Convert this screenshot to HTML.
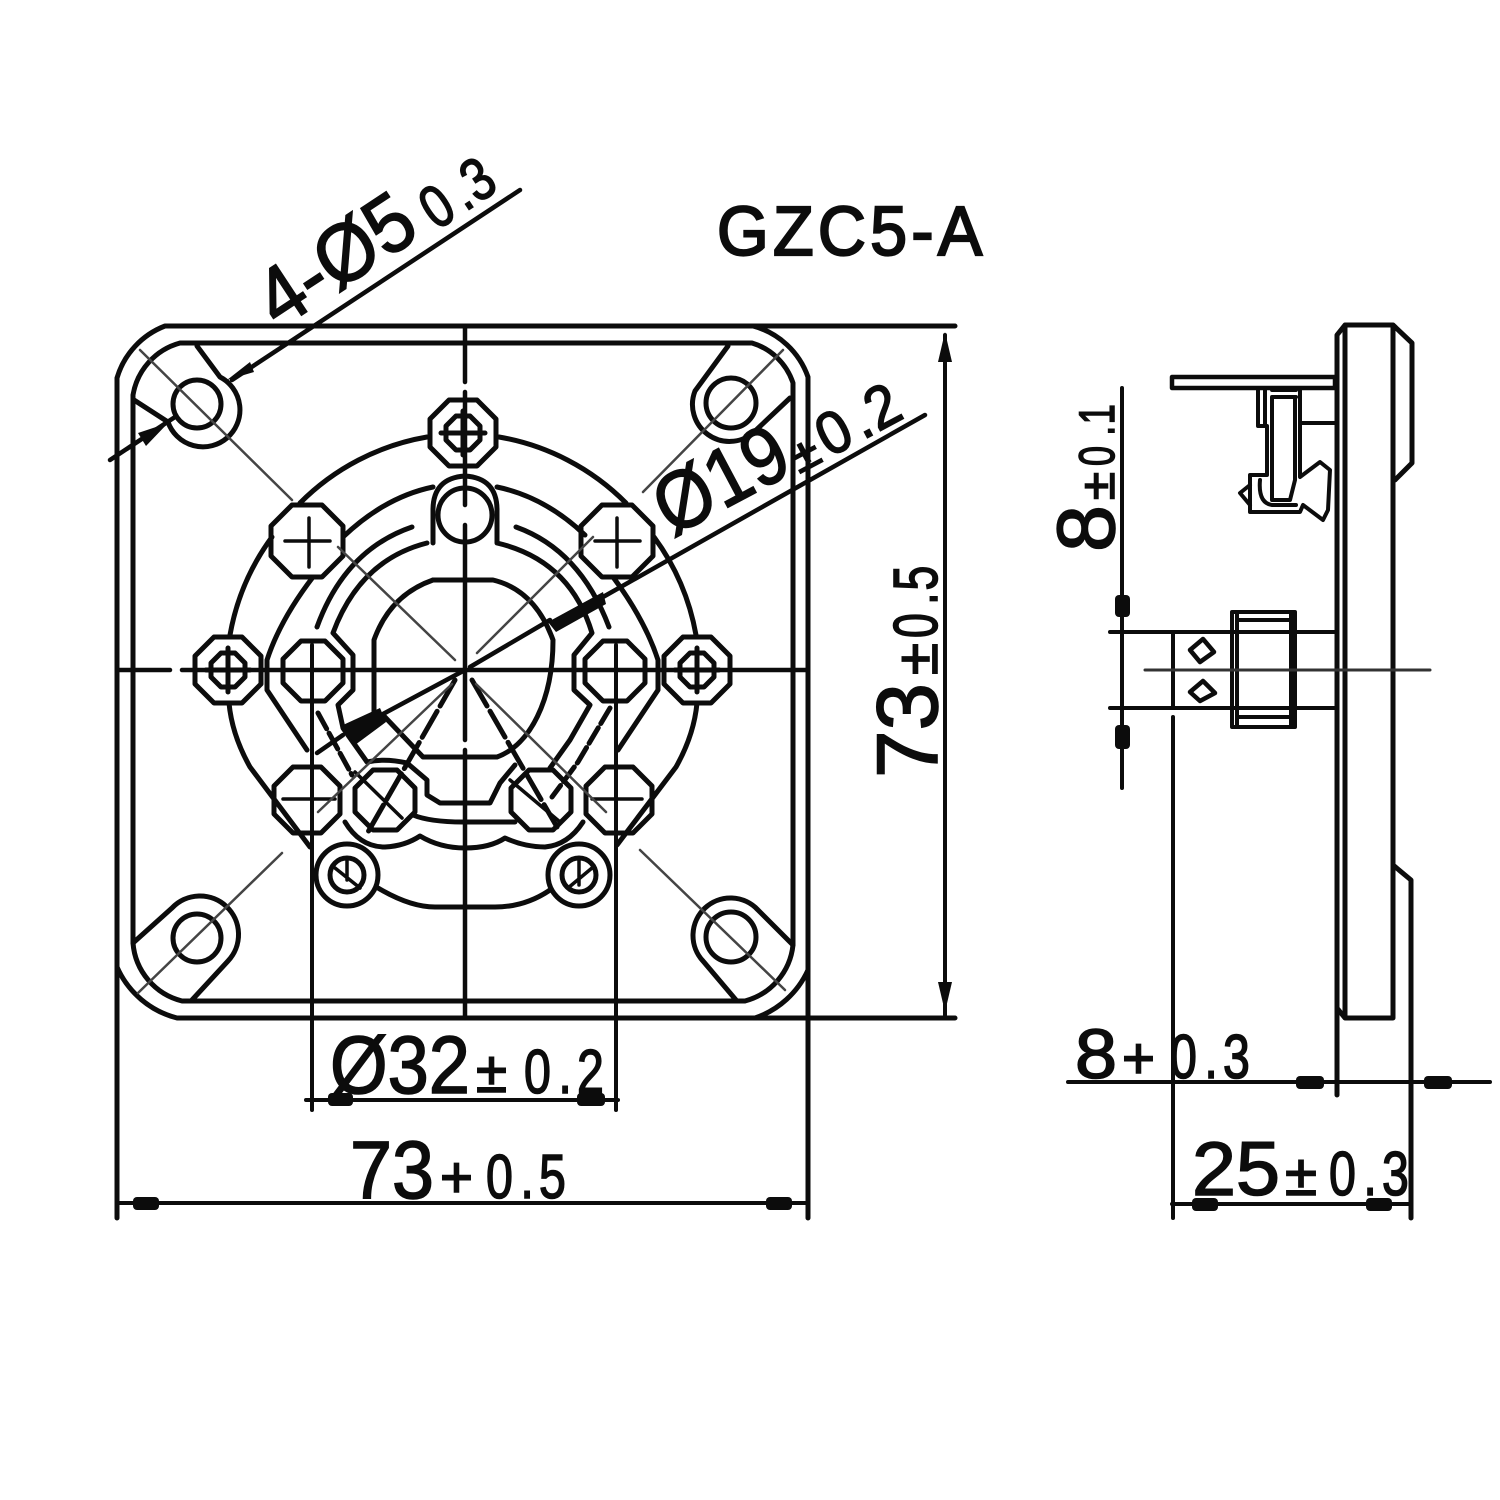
<!DOCTYPE html>
<html>
<head>
<meta charset="utf-8">
<style>
html,body{margin:0;padding:0;background:#fff}
svg{display:block}
text{font-family:"Liberation Sans",sans-serif;fill:#0c0c0c;stroke:#0c0c0c;stroke-width:1.6}
.b{font-size:82px}
.s{font-size:62px}
.p{font-size:58px}
</style>
</head>
<body>
<svg width="1500" height="1500" viewBox="0 0 1500 1500" xmlns="http://www.w3.org/2000/svg">
<defs>
<polygon id="o33" points="-14,-33 14,-33 33,-14 33,14 14,33 -14,33 -33,14 -33,-14"/>
<polygon id="o30" points="-12,-30 12,-30 30,-12 30,12 12,30 -12,30 -30,12 -30,-12"/>
<polygon id="o35" points="-15,-36 15,-36 36,-15 36,15 15,36 -15,36 -36,15 -36,-15"/>
<polygon id="o16" points="-7,-17 7,-17 17,-7 17,7 7,17 -7,17 -17,7 -17,-7"/>
<g id="node"><use href="#o33"/><use href="#o16"/><path d="M-22 0H22M0 -22V22"/></g>
</defs>
<rect width="1500" height="1500" fill="#fff"/>
<g fill="none" stroke="#0c0c0c" stroke-width="5" stroke-linejoin="round" stroke-linecap="round">

<!-- plate outer and extensions -->
<path d="M117 1218V378A80 80 0 0 1 165 326H955"/>
<path d="M753 326A80 80 0 0 1 808 377V1218"/>
<path d="M117 967A90 90 0 0 0 177 1018H955"/>
<path d="M808 970A90 90 0 0 1 755 1018"/>
<!-- plate inner -->
<path d="M180 343H752A62 62 0 0 1 793 383V945A65 65 0 0 1 745 1001H182A65 65 0 0 1 133 943V395A65 65 0 0 1 180 343Z"/>

<!-- corner holes -->
<circle cx="197" cy="404" r="24"/><circle cx="731" cy="403" r="25"/>
<circle cx="197" cy="938" r="24"/><circle cx="731" cy="937" r="25"/>
<path d="M197 346L220 377A37 37 0 1 1 168 422L134 400"/>
<path d="M728 346L695 391A37 37 0 0 0 753 433L790 398"/>
<path d="M133 943L172 908A37 37 0 0 1 228 961L192 1000"/>
<path d="M793 945L758 910A37 37 0 0 0 703 961L736 1000"/>

<!-- outer flange -->
<path d="M427 437A235 235 0 0 0 300 503M272 537A235 235 0 0 0 230 635"/>
<path d="M499 437A235 235 0 0 1 626 503M654 537A235 235 0 0 1 696 635"/>
<path d="M229 703Q232 735 250 767L310 847M697 703Q694 735 676 767L617 845"/>
<path d="M378 888Q410 907 435 907H495Q525 907 550 890"/>

<!-- ring 1 -->
<path d="M433 487Q385 497 343 537M497 487Q545 497 585 535"/>
<path d="M313 577Q280 620 267 660V690L307 750M613 577Q645 620 658 660V690L618 750"/>
<path d="M345 822Q360 847 385 847Q405 846 420 836Q440 848 465 848Q490 848 505 838Q525 847 545 847Q568 845 583 822"/>
<!-- ring 2 -->
<path d="M412 527Q345 550 317 627M516 527Q580 550 609 627"/>
<path d="M318 713L352 775M610 708L578 762L552 797" stroke-dasharray="18 5"/>
<path d="M413 815Q430 822 463 822H515"/>
<!-- ring 3 -->
<path d="M427 543Q360 560 333 633L353 655V690L338 705L343 728L367 762Q385 758 407 763L427 780V795L440 803H490L500 783L515 765"/>
<path d="M497 543Q570 560 592 633L574 655V690L590 705L570 740L550 768"/>
<!-- inner circle -->
<path d="M433 580H493Q535 590 553 640C553 700 530 745 497 757H423L383 715"/>
<path d="M433 580Q390 595 374 640V712"/>

<!-- nodes -->
<use href="#node" x="463" y="433"/>
<use href="#node" x="228" y="670"/>
<use href="#node" x="697" y="670"/>
<circle cx="347" cy="875" r="31"/><circle cx="579" cy="875" r="31"/>
<circle cx="347" cy="875" r="17"/><circle cx="579" cy="875" r="17"/>
<path d="M335 868L360 888M347 858V880M568 888L592 868M579 860V885" stroke-width="3.5"/>

<path d="M433 510Q433 478 465 476Q497 478 497 510Q497 530 497 542M433 510V543"/>
<circle cx="465" cy="515" r="27"/>
<use href="#o30" x="313" y="671"/>
<use href="#o30" x="615" y="671"/>
<use href="#o30" x="385" y="800"/>
<use href="#o30" x="541" y="800"/>
<use href="#o35" x="307" y="541"/>
<use href="#o35" x="617" y="541"/>
<use href="#o33" x="307" y="800"/>
<use href="#o33" x="619" y="800"/>
<path d="M285 541H330M309 518V567M595 541H640M617 518V567" stroke-width="3.5"/>
<path d="M283 799H335M592 799H642" stroke-width="3.5"/>
<path d="M355 772L402 818M510 780L560 822" stroke-width="3.5"/>

<!-- spokes -->
<path d="M455 680L368 832M472 680L557 827" stroke-dasharray="30 6"/>

<!-- thin diagonals -->
<g stroke="#444" stroke-width="2.5">
<path d="M140 350L292 500M338 547L455 660M643 492L783 350M477 653L593 537M640 850L785 990M282 853L138 993"/>
<path d="M452 684L318 812M476 684L606 812"/>
</g>

<!-- centre lines -->
<path d="M465 326V382M465 392V505M465 525V740M465 750V1018" stroke-width="4.5"/>
<path d="M117 670H170M182 670H808" stroke-width="4.5"/>

<!-- dims left -->
<path d="M945 335V1015" stroke-width="4"/>
<path d="M312 645V1110M616 645V1110M306 1100H618M117 1203H808" stroke-width="4"/>

<!-- leaders -->
<path d="M110 460L175 417M232 380L520 190" stroke-width="4.5"/>
<path d="M465 670L383 714M343 735L317 753M603 597L925 415" stroke-width="4.5"/>
<path d="M470 667L550 620" stroke-width="4.5"/>

<!-- right view -->
<path d="M1337 1095V335L1345 325H1393L1412 343V463L1395 480M1345 325V1018M1393 327V1018M1393 865L1411 880V1218M1345 1018H1393M1337 1008L1345 1018"/>
<path d="M1172 377H1335V388H1172Z" stroke-width="4.5"/>
<path d="M1258 388V426H1267V475H1250V512H1300L1303 505L1323 520L1328 510L1330 470L1320 462L1300 477V388" stroke-width="4"/>
<path d="M1265 388V424M1272 397V500H1290L1295 480V397M1272 390H1296M1272 397H1296M1300 423H1335M1250 485L1240 493L1250 505M1260 480Q1258 503 1272 505H1296" stroke-width="4"/>
<path d="M1110 632H1337M1110 708H1337M1173 632V708M1232 612H1295V727H1232ZM1237 612V727M1291 612V727M1237 620H1291M1237 717H1291" stroke-width="4"/>
<path d="M1190 650L1203 639L1214 652L1200 662ZM1190 692L1203 681L1215 693L1200 701Z" stroke-width="4.5"/>
<path d="M1145 670H1430" stroke="#333" stroke-width="3"/>

<!-- right dims -->
<path d="M1122 388V788M1173 717V1218M1068 1082H1490M1172 1204H1411" stroke-width="4"/>
</g>

<!-- arrowheads -->
<g fill="#0c0c0c">
<polygon points="945,332 952,362 938,362"/>
<polygon points="945,1012 952,982 938,982"/>
<rect x="328" y="1093" width="25" height="13" rx="4"/><rect x="577" y="1093" width="28" height="13" rx="4"/>
<rect x="133" y="1197" width="26" height="13" rx="4"/><rect x="766" y="1197" width="26" height="13" rx="4"/>
<rect x="1115" y="595" width="15" height="22" rx="4"/><rect x="1115" y="725" width="15" height="24" rx="4"/>
<rect x="1296" y="1076" width="28" height="13" rx="4"/><rect x="1424" y="1076" width="28" height="13" rx="4"/>
<rect x="1192" y="1198" width="26" height="13" rx="4"/><rect x="1366" y="1198" width="26" height="13" rx="4"/>
<polygon points="227,380 250,362 254,372"/>
<polygon points="168,423 146,446 138,433"/>
<polygon points="343,725 380,708 386,722 355,745"/>
<polygon points="548,622 603,592 606,604 556,632"/>
</g>

<!-- labels -->
<text transform="translate(717,255) scale(.95,1)" font-size="70" letter-spacing="4.5" style="stroke-width:2.2">GZC5-A</text>

<g transform="translate(279,330) rotate(-33.4)">
<text class="b" x="0" y="0" textLength="172" lengthAdjust="spacingAndGlyphs">4-Ø5</text>
<text transform="translate(186,4) scale(.82,1)" font-size="60" x="0 42 60">0.3</text>
</g>
<g transform="translate(672,537) rotate(-28)">
<text class="b" x="0" y="0" textLength="140" lengthAdjust="spacingAndGlyphs">Ø19</text>
<text x="142" y="4" font-size="44" textLength="28" lengthAdjust="spacingAndGlyphs">±</text>
<text transform="translate(176,4) scale(.95,1)" font-size="60" x="0 40 58">0.2</text>
</g>
<g transform="translate(937,778) rotate(-90)">
<text class="b" style="font-size:86px" x="0" y="0" textLength="95" lengthAdjust="spacingAndGlyphs">73</text>
<text class="p" x="103" y="0" textLength="32" lengthAdjust="spacingAndGlyphs">±</text>
<text class="s" transform="translate(140,0) scale(.72,1)" x="0 46 66">0.5</text>
</g>
<g transform="translate(1114,552) rotate(-90)">
<text class="b" x="0" y="0" textLength="47" lengthAdjust="spacingAndGlyphs">8</text>
<text class="p" style="font-size:48px" x="52" y="0" textLength="28" lengthAdjust="spacingAndGlyphs">±</text>
<text transform="translate(86,0) scale(.72,1)" font-size="50" x="0 42 58">0.1</text>
</g>

<text class="b" x="330" y="1093" textLength="140" lengthAdjust="spacingAndGlyphs">Ø32</text>
<text class="p" x="476" y="1092" textLength="31" lengthAdjust="spacingAndGlyphs">±</text>
<text class="s" transform="translate(524,1093) scale(.78,1)" x="0 44 68">0.2</text>

<text class="b" x="350" y="1198" textLength="84" lengthAdjust="spacingAndGlyphs">73</text>
<text class="p" x="440" y="1197" textLength="33" lengthAdjust="spacingAndGlyphs">+</text>
<text class="s" transform="translate(486,1198) scale(.78,1)" x="0 44 68">0.5</text>

<text class="b" style="font-size:70px" x="1075" y="1078" textLength="42" lengthAdjust="spacingAndGlyphs">8</text>
<text class="p" x="1122" y="1078" textLength="33" lengthAdjust="spacingAndGlyphs">+</text>
<text class="s" transform="translate(1170,1078) scale(.78,1)" x="0 44 68">0.3</text>

<text class="b" style="font-size:76px" x="1192" y="1195" textLength="88" lengthAdjust="spacingAndGlyphs">25</text>
<text class="p" x="1285" y="1195" textLength="32" lengthAdjust="spacingAndGlyphs">±</text>
<text class="s" transform="translate(1329,1195) scale(.78,1)" x="0 44 68">0.3</text>
</svg>
</body>
</html>
